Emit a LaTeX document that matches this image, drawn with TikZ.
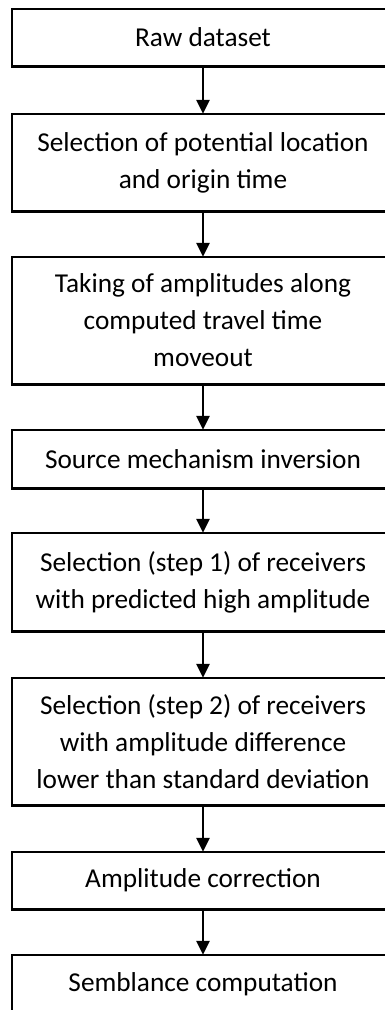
\documentclass[tikz,border=0pt]{standalone}
\usepackage{fontspec}
\setmainfont{Carlito}
\usetikzlibrary{arrows.meta}
\begin{document}
\begin{tikzpicture}[x=1pt,y=1pt,
  box/.style={minimum width=382pt, inner sep=0pt,
    align=center, font=\fontsize{27.3}{37}\selectfont},
  edge/.style={line width=2.6pt, line join=miter},
  conn/.style={line width=2.6pt, -{Triangle[width=13pt,length=14pt]}}]
\useasboundingbox (0,0) rectangle (385,-1010);
\node[box, minimum height=57pt] (b1) at (203,-37.5) {Raw dataset};
\node[box, minimum height=97pt] (b2) at (203,-162.5) {Selection of potential location\\and origin time};
\node[box, minimum height=127pt] (b3) at (203,-320.5) {Taking of amplitudes along\\computed travel time\\moveout};
\node[box, minimum height=58pt] (b4) at (203,-459) {Source mechanism inversion};
\node[box, minimum height=98pt] (b5) at (203,-582) {Selection (step 1) of receivers\\with predicted high amplitude};
\node[box, minimum height=127pt] (b6) at (203,-741.5) {Selection (step 2) of receivers\\with amplitude difference\\lower than standard deviation};
\node[box, minimum height=57pt] (b7) at (203,-880.5) {Amplitude correction};
\node[box, minimum height=58pt] (b8) at (203,-984) {Semblance computation};
\foreach \b in {b1,b2,b3,b4,b5,b6,b7,b8}
  \draw[edge] (\b.north east) -- (\b.north west) -- (\b.south west) -- (\b.south east);
\draw[conn] (b1) -- (b2);
\draw[conn] (b2) -- (b3);
\draw[conn] (b3) -- (b4);
\draw[conn] (b4) -- (b5);
\draw[conn] (b5) -- (b6);
\draw[conn] (b6) -- (b7);
\draw[conn] (b7) -- (b8);
\end{tikzpicture}
\end{document}
